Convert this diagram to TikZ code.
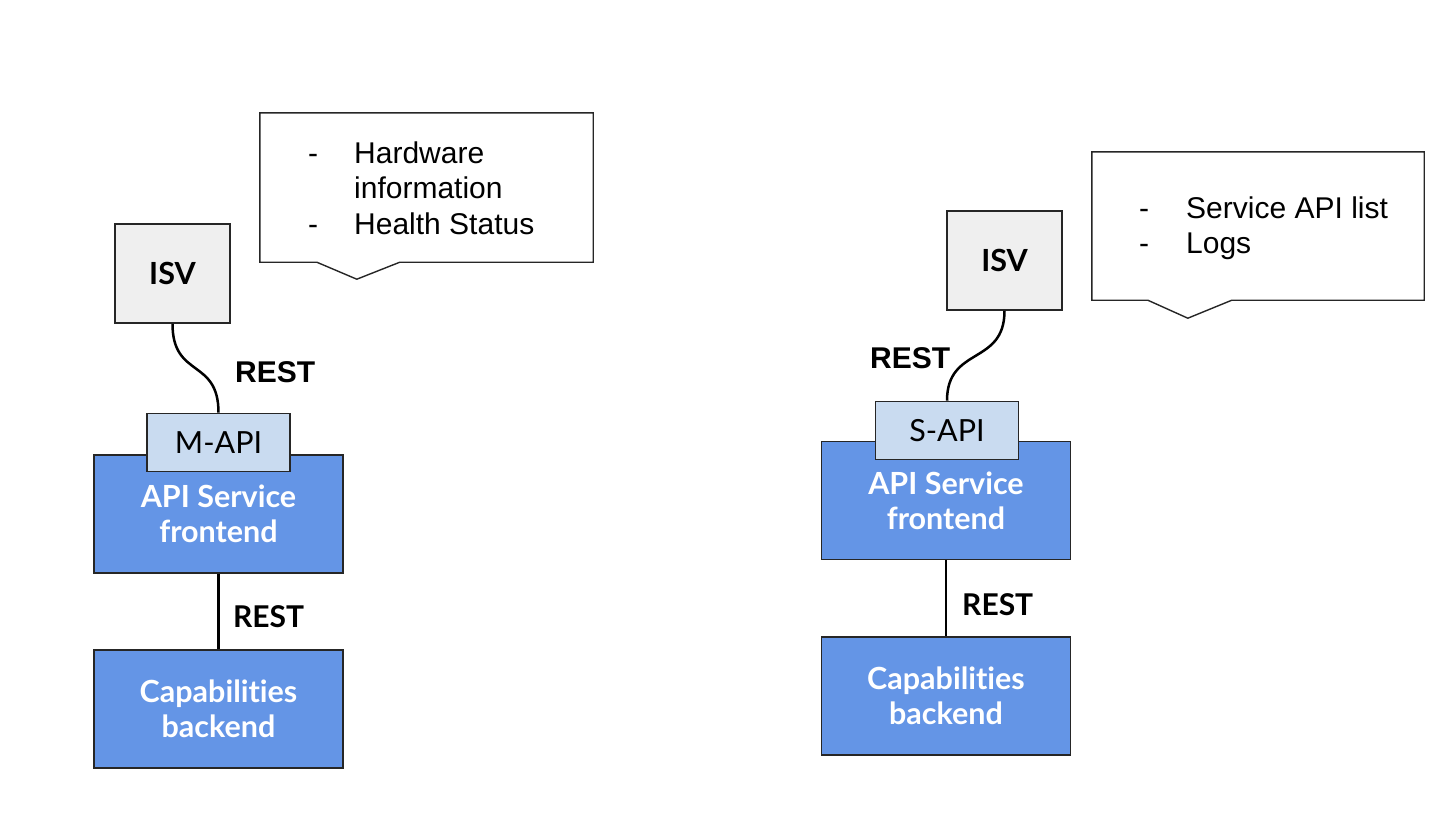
\documentclass[tikz,border=0pt]{standalone}
\usepackage{fontspec}
\setmainfont{Lato}[Ligatures=NoCommon]
\newfontfamily\notefont{Liberation Sans}
\usetikzlibrary{positioning}

\definecolor{isvgray}{HTML}{EFEFEF}
\definecolor{apiblue}{HTML}{C9DBF0}
\definecolor{svcblue}{HTML}{6495E6}
\definecolor{edgegray}{HTML}{262626}

\tikzset{
  isvbox/.style={draw=edgegray, line width=1.6pt, fill=isvgray, minimum width=115pt, minimum height=99pt, font=\fontsize{30.5}{35}\selectfont\bfseries},
  apibox/.style={draw=edgegray, line width=1.6pt, fill=apiblue, minimum width=143pt, minimum height=58pt, font=\fontsize{30.5}{35}\selectfont},
  svcbox/.style={draw=edgegray, line width=1.6pt, fill=svcblue, text=white, minimum width=249pt, minimum height=118pt, align=center, font=\fontsize{30.5}{35}\selectfont\bfseries},
  notebox/.style={minimum width=333pt, minimum height=149pt},
  noteline/.style={draw=edgegray, line width=1.4pt, fill=white},
  notetext/.style={inner sep=0pt, anchor=base west, font=\notefont\fontsize{30}{35.5}\selectfont},
  link/.style={line width=2.5pt},
  restlabel/.style={anchor=west, inner sep=0pt, font=\notefont\bfseries\fontsize{30}{34}\selectfont},
  restlabelb/.style={anchor=west, inner sep=0pt, font=\bfseries\fontsize{30}{34}\selectfont},
}

\begin{document}
\begin{tikzpicture}[x=1pt, y=-1pt]
    \useasboundingbox (0,0) rectangle (1451,815);

    % Left side - M-API
    \node[notebox] (noteL) at (426.5,187.5) {};
    \draw[noteline] (noteL.south west) -- (noteL.north west) -- (noteL.north east) -- (noteL.south east)
        -- ([xshift=140pt]noteL.south west) -- ++(-43,17) -- ++(-40,-17) -- cycle;
    \node[notetext] (textL) at (308,163) {\begin{tabular}[t]{@{}p{46pt}@{}l@{}}
        - & Hardware\\ & information\\ - & Health Status\end{tabular}};

    \node[isvbox] (isvL) at (172.5,273.5) {ISV};
    \node[svcbox] (frontL) at (218.5,514) {API Service\\frontend};
    \node[apibox] (apiL) at (218.5,442.5) {M-API};
    \node[svcbox] (backL) at (218.5,709) {Capabilities\\backend};

    \draw[link] (isvL.south) .. controls +(0,55) and +(0,-55) .. (apiL.north);
    \draw[link] (frontL.south) -- (backL.north);
    \node[restlabel] (restL) at (235,372) {REST};
    \node[restlabelb] (restLb) at (233,617) {REST};

    % Right side - S-API
    \node[notebox, minimum width=332pt, minimum height=148pt] (noteR) at (1258,226) {};
    \draw[noteline] (noteR.south west) -- (noteR.north west) -- (noteR.north east) -- (noteR.south east)
        -- ([xshift=140pt]noteR.south west) -- ++(-44,18) -- ++(-40,-18) -- cycle;
    \node[notetext] (textR) at (1139,218) {\begin{tabular}[t]{@{}p{47pt}@{}l@{}}
        - & Service API list\\ - & Logs\end{tabular}};

    \node[isvbox] (isvR) at (1004.5,260.5) {ISV};
    \node[svcbox] (frontR) at (946,500.5) {API Service\\frontend};
    \node[apibox] (apiR) at (947,430.5) {S-API};
    \node[svcbox] (backR) at (946,696) {Capabilities\\backend};

    \draw[link] (isvR.south) .. controls +(0,55) and +(0,-55) .. (apiR.north);
    \draw[link] (frontR.south) -- (backR.north);
    \node[restlabel] (restR) at (870,358) {REST};
    \node[restlabelb] (restRb) at (962,605) {REST};
\end{tikzpicture}
\end{document}
